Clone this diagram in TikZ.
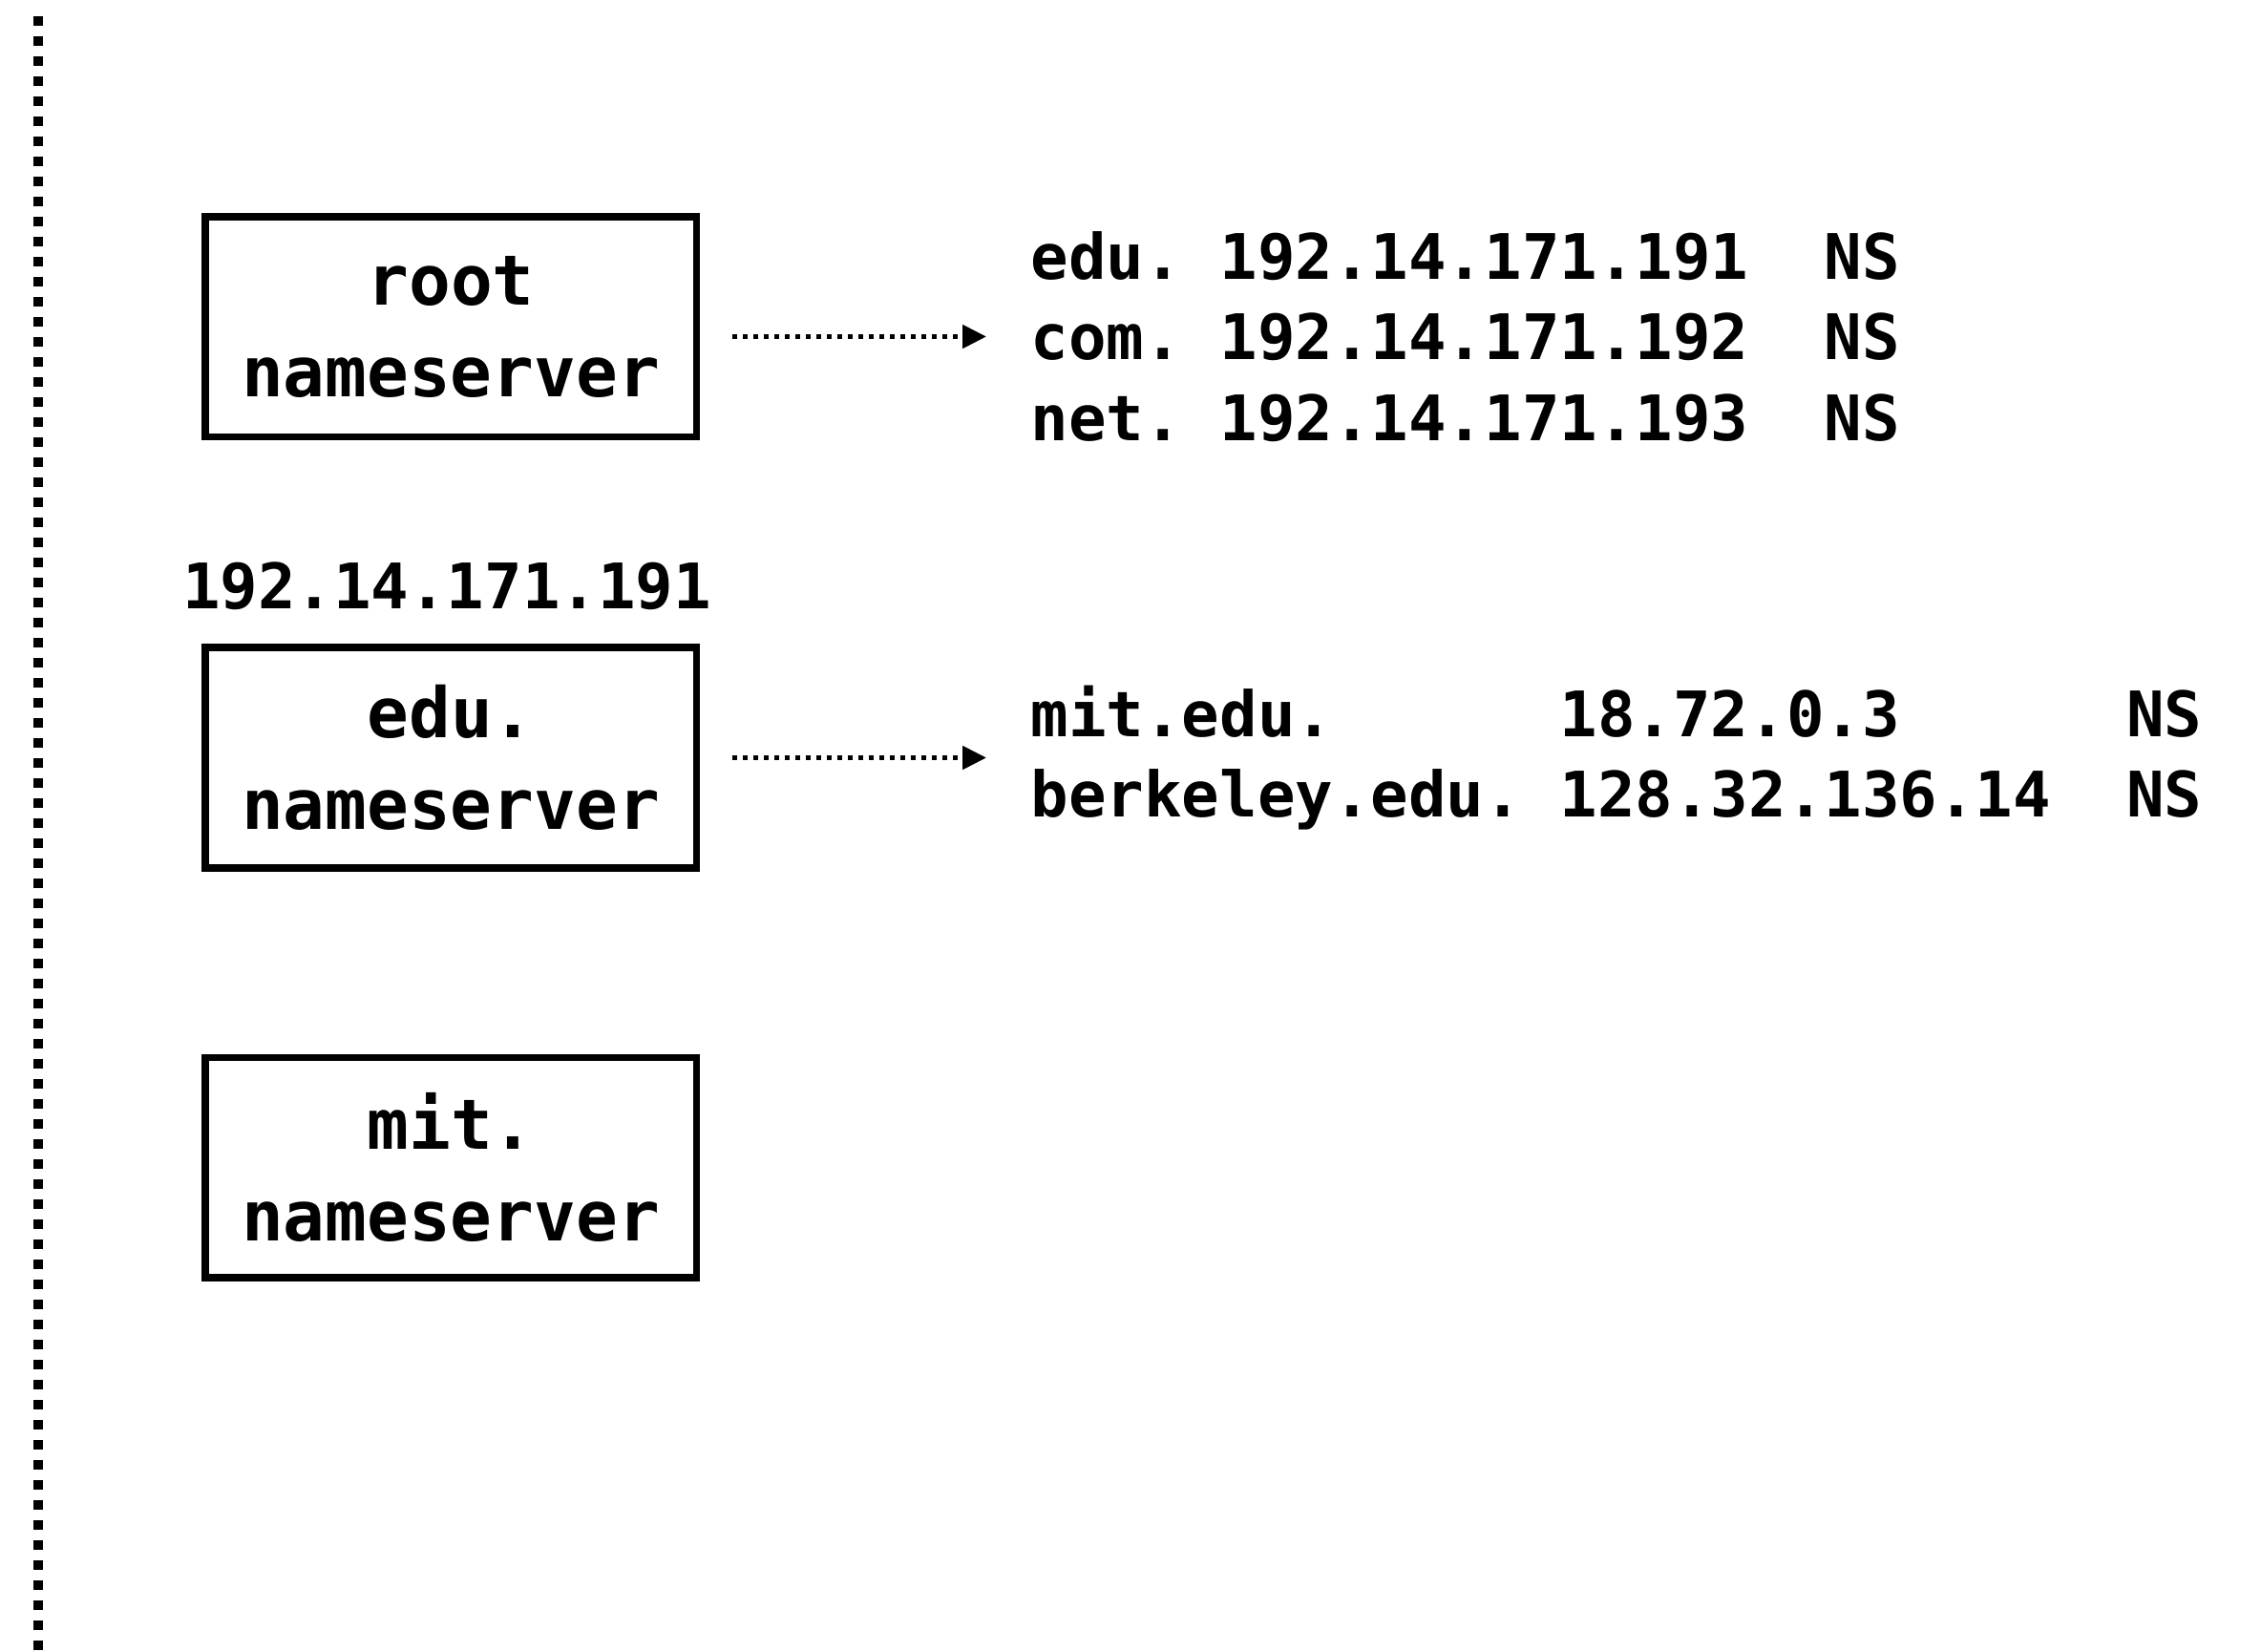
\documentclass[tikz,border=0pt]{standalone}
\usepackage{fontspec}
\setmonofont{DejaVu Sans Mono}
\usetikzlibrary{positioning, arrows.meta}

\begin{document}
\begin{tikzpicture}[        server/.style={rectangle, draw=black, line width=0.075cm, minimum width=5.145cm, minimum height=2.305cm, align=center, font=\ttfamily\bfseries\fontsize{20.7}{27.2}\selectfont},        records/.style={inner sep=0pt, anchor=west, align=left, font=\ttfamily\bfseries\fontsize{18.7}{24.1}\selectfont},        addr/.style={inner sep=0pt, font=\ttfamily\bfseries\fontsize{18.7}{24.1}\selectfont},        lookup/.style={line width=0.05cm, dash pattern=on 0.05cm off 0.06cm, -{Triangle[length=0.25cm, width=0.24cm]}, shorten <=0.34cm, shorten >=0.46cm}    ]
        \useasboundingbox (0,0) rectangle (23.68,-17.30);
        \draw [line width=0.105cm, dash pattern=on 0.10cm off 0.11cm] (0.40,-0.17) -- (0.40,-17.30);

        \node (root) [server] at (4.72,-3.425) {root\\nameserver};
        \node (edu) [server, below=2.13cm of root] {edu.\\nameserver};
        \node (mit) [server, below=1.91cm of edu] {mit.\\nameserver};
        \node (eduaddr) [addr, above=0.35cm of edu, xshift=-0.04cm] {192.14.171.191};

        \node (rootrec) [records, right=3.46cm of root, yshift=-0.1cm] {edu.\ 192.14.171.191\ \ NS\\com.\ 192.14.171.192\ \ NS\\net.\ 192.14.171.193\ \ NS};
        \node (edurec) [records, right=3.46cm of edu] {mit.edu.\ \ \ \ \ \ 18.72.0.3\ \ \ \ \ \ NS\\berkeley.edu.\ 128.32.136.14\ \ NS};

        \draw [lookup] (root.east |- rootrec.west) -- (rootrec.west);
        \draw [lookup] (edu.east |- edurec.west) -- (edurec.west);
    \end{tikzpicture}
\end{document}
